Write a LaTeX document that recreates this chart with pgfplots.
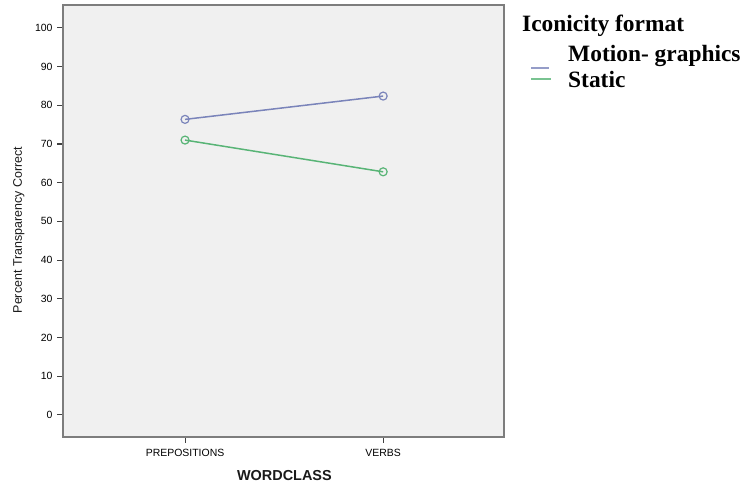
\documentclass[border=0pt]{standalone}
\usepackage{pgfplots}
\pgfplotsset{compat=1.18}
\usepackage{fontspec}
\setmainfont{Liberation Serif}
\newfontfamily\arial{Liberation Sans}
\definecolor{motion}{RGB}{122,132,186}
\definecolor{static}{RGB}{88,180,118}
\definecolor{bgc}{RGB}{240,240,240}
\definecolor{axc}{RGB}{125,125,125}
\begin{document}
\begin{tikzpicture}[x=1bp,y=1bp]
\path[use as bounding box] (0,0) rectangle (743,484);
\begin{axis}[
  at={(63bp,47bp)}, anchor=south west,
  scale only axis, width=441bp, height=432bp,
  xmin=-0.616, xmax=1.61, ymin=-5.7, ymax=105.9,
  axis background/.style={fill=bgc},
  axis line style={axc, line width=1.7pt},
  xtick={0,1}, xticklabels={PREPOSITIONS,VERBS},
  ytick={0,10,...,100},
  tick align=outside,
  xtick pos=bottom, ytick pos=left,
  major tick length=6bp,
  xtick style={black!75, line width=0.7pt},
  ytick style={black!75, line width=1.1pt},
  /pgf/number format/assume math mode=true,
  ticklabel style={font=\arial\fontsize{10.5}{12}\selectfont, text=black},
  yticklabel style={xshift=-1bp},
  xticklabel style={yshift=-3bp},
  xlabel={\arial\bfseries WORDCLASS},
  xlabel style={font=\fontsize{14.5}{16}\selectfont, at={(axis description cs:0.502,-0.089)}, anchor=center, text=black!90},
  ylabel={\arial Percent Transparency Correct},
  ylabel style={font=\fontsize{12.5}{14}\selectfont, at={(axis description cs:-0.1,0.479)}, anchor=center, rotate=0, text=black!90},
  clip=false,
]
\addplot[color=motion, line width=1.5pt, mark=o, mark size=4bp, mark options={fill=bgc, line width=1.2pt}]
  coordinates {(0,76.35) (1,82.37)};
\addplot[color=static, line width=1.5pt, mark=o, mark size=4bp, mark options={fill=bgc, line width=1.2pt}]
  coordinates {(0,71.0) (1,62.8)};
\end{axis}
\node[anchor=base west, inner sep=0, font=\fontsize{23.5}{25}\selectfont\bfseries] at (522,452) {Iconicity format};
\node[anchor=base west, inner sep=0, font=\fontsize{23.5}{25}\selectfont\bfseries] at (568,422) {Motion- graphics};
\node[anchor=base west, inner sep=0, font=\fontsize{23.5}{25}\selectfont\bfseries] at (568,396) {Static};
\draw[color=motion!80!white, line width=1.3pt] (531,416) -- (549,416);
\draw[color=static!80!white, line width=1.3pt] (531,405) -- (551,405);
\end{tikzpicture}
\end{document}
